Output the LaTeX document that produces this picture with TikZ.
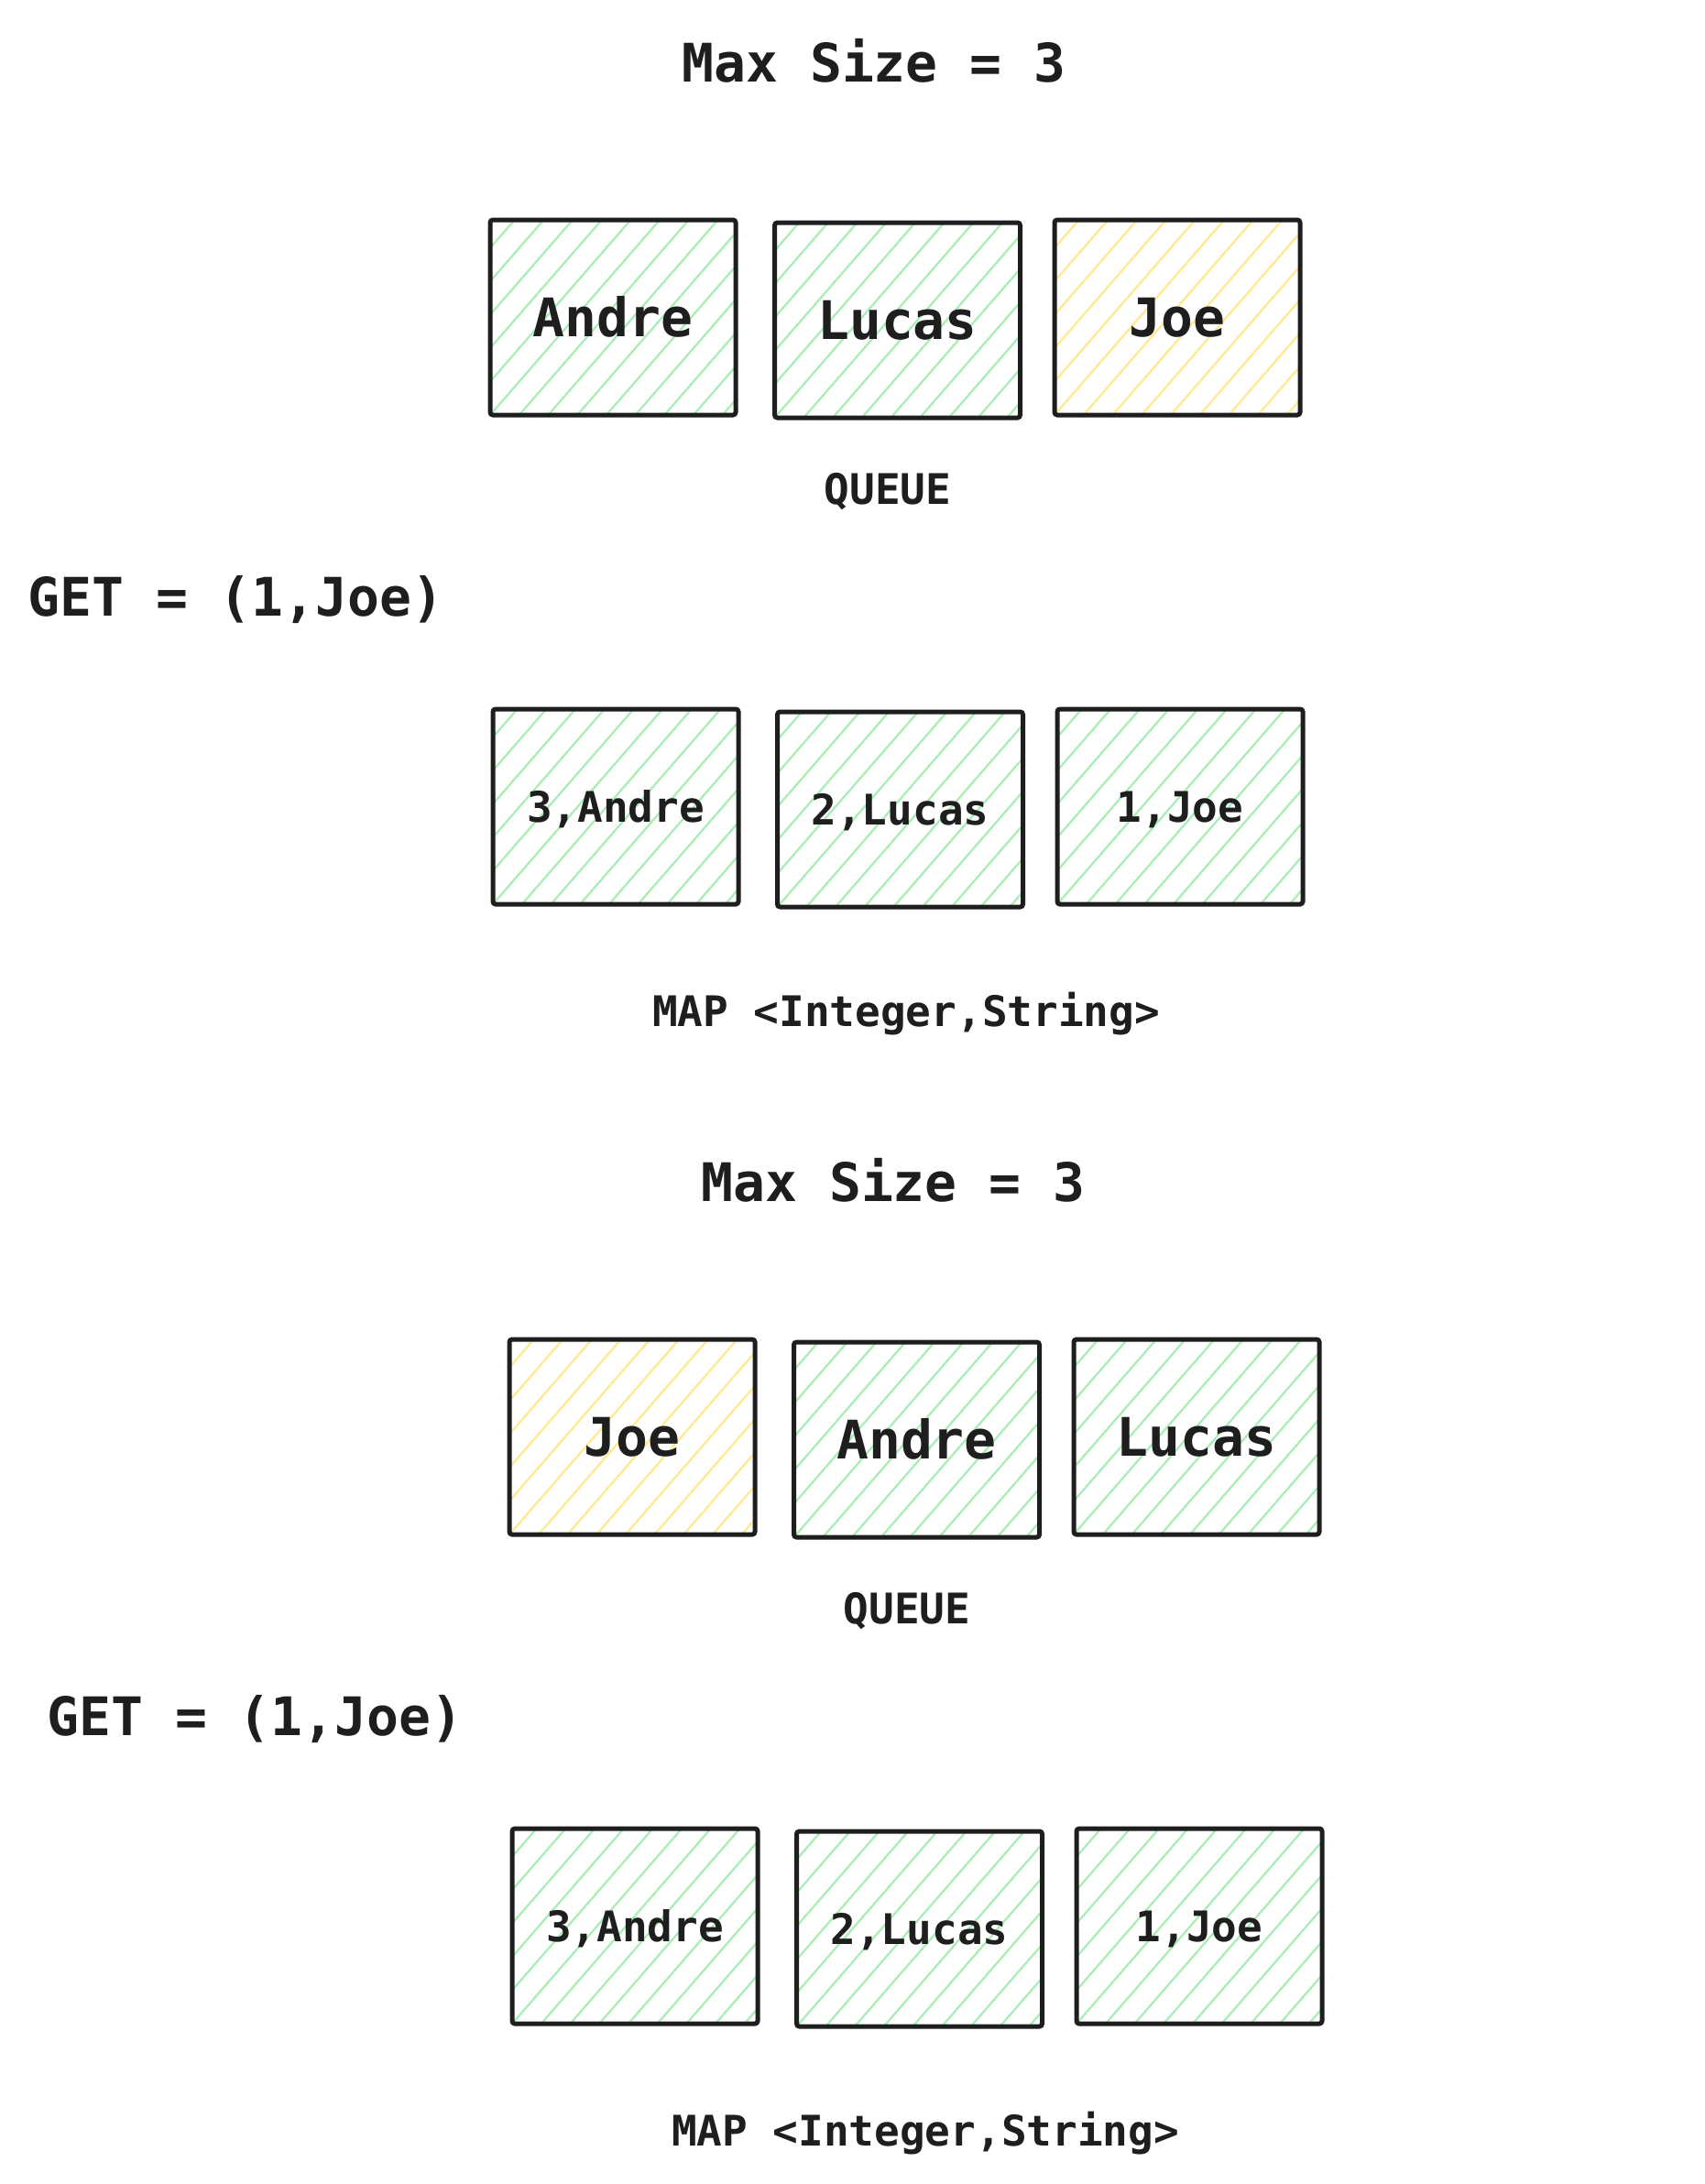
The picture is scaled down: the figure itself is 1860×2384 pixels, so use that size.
\documentclass[tikz,border=0pt]{standalone}
\usepackage{fontspec}
\setmonofont{DejaVu Sans Mono}
\definecolor{ink}{HTML}{1E1E1E}
\definecolor{hgreen}{HTML}{A8EEB4}
\definecolor{hyellow}{HTML}{FFE98F}
\newcommand\bigtxt{\fontsize{29}{34}\selectfont\ttfamily\bfseries}
\newcommand\smalltxt{\fontsize{23}{27}\selectfont\ttfamily\bfseries}
\tikzset{
  hatched/.style={path picture={
    \foreach \k in {-8,...,10}{
      \draw[#1, line width=1.1pt] ([xshift=\k*15.85pt]path picture bounding box.south west) -- ++(49:170pt);
    }}},
  cell/.style={draw=ink, line width=2.5pt, rounded corners=1.5pt,
    minimum width=134pt, minimum height=106.5pt, inner sep=0pt, text=ink, text depth=0pt},
  qcell/.style={cell, font=\bigtxt, text height=21pt},
  mcell/.style={cell, font=\smalltxt, text height=16.8pt},
  bigtitle/.style={font=\bigtxt, text=ink, inner sep=0pt, text height=21pt, text depth=0pt},
  smalltitle/.style={font=\smalltxt, text=ink, inner sep=0pt, text height=16.8pt, text depth=0pt}
}
\begin{document}
\begin{tikzpicture}[x=0.5pt,y=-0.5pt]
\useasboundingbox[fill=white] (0,0) rectangle (1860,2384);
% ---------- first state ----------
\node[bigtitle] (t1) at (954,68) {Max Size = 3};
\node[qcell, hatched=hgreen] (qa1) at (669,346.5) {Andre};
\node[qcell, hatched=hgreen] (ql1) at (979.5,349.5) {Lucas};
\node[qcell, hatched=hyellow] (qj1) at (1285,346.5) {Joe};
\node[smalltitle] (q1) at (969,534) {QUEUE};
\node[bigtitle, anchor=west] (g1) at (30,651) {GET = (1,Joe)};
\node[mcell, hatched=hgreen] (ma1) at (672,880.5) {3,Andre};
\node[mcell, hatched=hgreen] (ml1) at (982.5,883.5) {2,Lucas};
\node[mcell, hatched=hgreen] (mj1) at (1288,880.5) {1,Joe};
\node[smalltitle] (m1) at (989,1104) {MAP <Integer,String>};
% ---------- second state ----------
\begin{scope}[shift={(21,1222)}]
\node[bigtitle] (t2) at (954,68) {Max Size = 3};
\node[qcell, hatched=hyellow] (qj2) at (669,346.5) {Joe};
\node[qcell, hatched=hgreen] (qa2) at (979.5,349.5) {Andre};
\node[qcell, hatched=hgreen] (ql2) at (1285,346.5) {Lucas};
\node[smalltitle] (q2) at (969,534) {QUEUE};
\node[bigtitle, anchor=west] (g2) at (30,651) {GET = (1,Joe)};
\node[mcell, hatched=hgreen] (ma2) at (672,880.5) {3,Andre};
\node[mcell, hatched=hgreen] (ml2) at (982.5,883.5) {2,Lucas};
\node[mcell, hatched=hgreen] (mj2) at (1288,880.5) {1,Joe};
\node[smalltitle] (m2) at (989,1104) {MAP <Integer,String>};
\end{scope}
\end{tikzpicture}
\end{document}
